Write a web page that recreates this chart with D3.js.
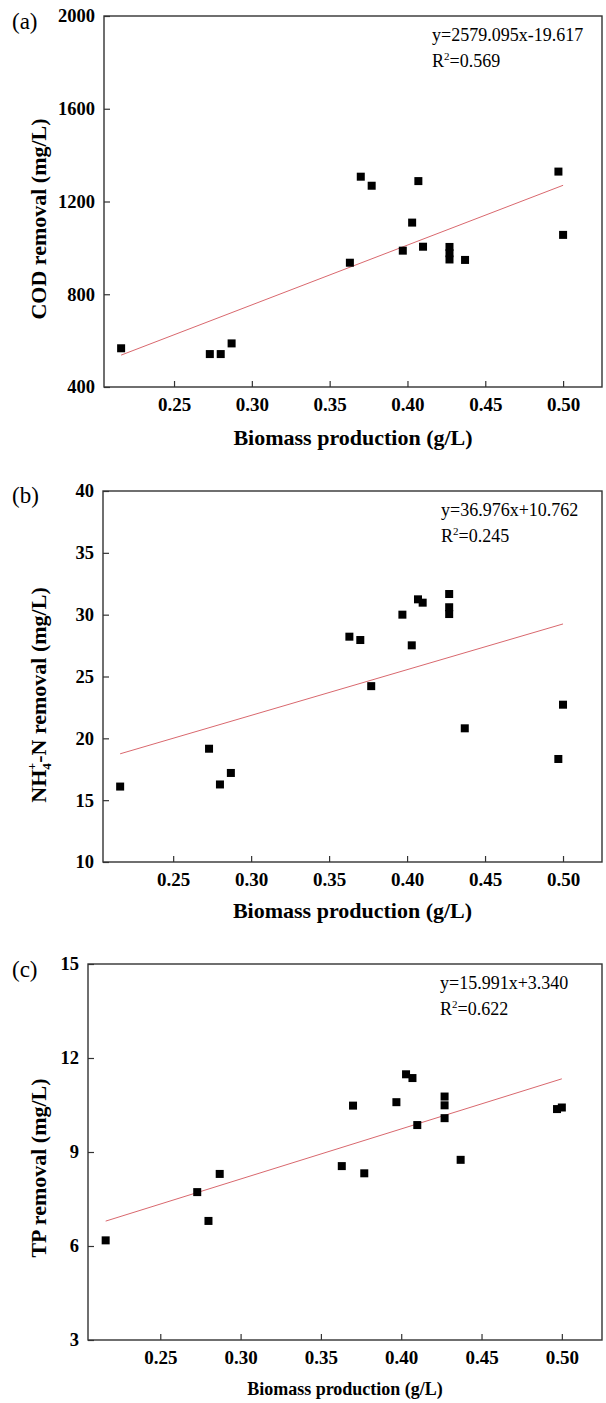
<!DOCTYPE html>
<html>
<head>
<meta charset="utf-8">
<script src="https://cdn.jsdelivr.net/npm/d3@7"></script>
<style>
  body { margin: 0; background: #fff; }
  svg { display: block; }
  text { font-family: "Liberation Serif", "Times New Roman", serif; fill: #000; }
</style>
</head>
<body>
<svg id="chart"></svg>
<script>
// biomass production (g/L), shared x for all three panels
const biomass = [0.216, 0.273, 0.280, 0.287, 0.363, 0.370, 0.377, 0.397, 0.403, 0.407, 0.410, 0.427, 0.427, 0.427, 0.437, 0.497, 0.500];

// removal values
const codRemoval = [567, 542, 542, 588, 936, 1307, 1268, 988, 1109, 1288, 1005, 1004, 977, 950, 948, 1329, 1056];
const nh4Removal = [16.1, 19.16, 16.27, 17.2, 28.22, 27.95, 24.22, 30.0, 27.52, 31.24, 30.97, 31.67, 30.6, 30.05, 20.81, 18.33, 22.72];
const tpRemoval = [6.18, 7.72, 6.80, 8.30, 8.55, 10.48, 8.32, 10.59, 11.48, 11.36, 9.86, 10.77, 10.49, 10.08, 8.75, 10.37, 10.42];

const xTicks = [0.25, 0.30, 0.35, 0.40, 0.45, 0.50];
const codTicks = [400, 800, 1200, 1600, 2000];
const nh4Ticks = [10, 15, 20, 25, 30, 35, 40];
const tpTicks = [3, 6, 9, 12, 15];

// linear fits as printed on the chart
const codFit = { slope: 2579.095, intercept: -19.617, eq: 'y=2579.095x-19.617', r2: '0.569' };
const nh4Fit = { slope: 36.976, intercept: 10.762, eq: 'y=36.976x+10.762', r2: '0.245' };
const tpFit = { slope: 15.991, intercept: 3.340, eq: 'y=15.991x+3.340', r2: '0.622' };

const width = 606, height = 1403;
const svg = d3.select('#chart').attr('width', width).attr('height', height);

const panels = [
  { tag: '(a)', values: codRemoval, yDomain: [400, 2000], yTicks: codTicks, fit: codFit, yLabel: 'cod',
    box: { left: 104, right: 602, top: 16, bottom: 387 }, tagY: 29, eqX: 432, labelY: 219, xTitleY: 445, xTitleSize: 22 },
  { tag: '(b)', values: nh4Removal, yDomain: [10, 40], yTicks: nh4Ticks, fit: nh4Fit, yLabel: 'nh4',
    box: { left: 103, right: 602, top: 491, bottom: 862 }, tagY: 503, eqX: 441, labelY: 695, xTitleY: 918, xTitleSize: 22 },
  { tag: '(c)', values: tpRemoval, yDomain: [3, 15], yTicks: tpTicks, fit: tpFit, yLabel: 'tp',
    box: { left: 88, right: 602, top: 964, bottom: 1340 }, tagY: 977, eqX: 440, labelY: 1168, xTitleY: 1395, xTitleSize: 18 }
];

panels.forEach(p => {
  const b = p.box;
  const x = d3.scaleLinear().domain([0.205, 0.525]).range([b.left, b.right]);
  const y = d3.scaleLinear().domain(p.yDomain).range([b.bottom, b.top]);
  const g = svg.append('g');

  // regression line over the data range
  const x0 = d3.min(biomass), x1 = d3.max(biomass);
  g.append('line')
    .attr('x1', x(x0)).attr('y1', y(p.fit.slope * x0 + p.fit.intercept))
    .attr('x2', x(x1)).attr('y2', y(p.fit.slope * x1 + p.fit.intercept))
    .attr('stroke', '#d9686e')
    .attr('stroke-width', 1);

  // points
  const s = 8;
  g.append('g')
    .selectAll('rect')
    .data(biomass.map((d, i) => [d, p.values[i]]))
    .join('rect')
    .attr('x', d => x(d[0]) - s / 2)
    .attr('y', d => y(d[1]) - s / 2)
    .attr('width', s)
    .attr('height', s)
    .attr('fill', '#000');

  // axes, ticks pointing inward
  const xAxis = g.append('g')
    .attr('transform', `translate(0,${b.bottom})`)
    .call(d3.axisBottom(x).tickValues(xTicks).tickFormat(d3.format('.2f')).tickSizeInner(-6).tickSizeOuter(0).tickPadding(11));
  xAxis.select('.domain').remove();
  xAxis.selectAll('line').attr('stroke', '#333').attr('stroke-width', 1.2);
  xAxis.selectAll('text').attr('font-family', 'Liberation Serif').attr('font-weight', 'bold').attr('font-size', 19);

  const yAxis = g.append('g')
    .attr('transform', `translate(${b.left},0)`)
    .call(d3.axisLeft(y).tickValues(p.yTicks).tickFormat(d3.format('d')).tickSizeInner(-6).tickSizeOuter(0).tickPadding(9));
  yAxis.select('.domain').remove();
  yAxis.selectAll('line').attr('stroke', '#333').attr('stroke-width', 1.2);
  yAxis.selectAll('text').attr('font-family', 'Liberation Serif').attr('font-weight', 'bold').attr('font-size', 18.5);

  // frame
  g.append('rect')
    .attr('x', b.left).attr('y', b.top)
    .attr('width', b.right - b.left).attr('height', b.bottom - b.top)
    .attr('fill', 'none')
    .attr('stroke', '#333')
    .attr('stroke-width', 1.4);

  // panel tag
  g.append('text')
    .attr('x', 12).attr('y', p.tagY)
    .attr('font-size', 23)
    .text(p.tag);

  // equation + R^2
  g.append('text')
    .attr('x', p.eqX).attr('y', b.top + 25)
    .attr('font-size', 18)
    .text(p.fit.eq);
  const r2 = g.append('text')
    .attr('x', p.eqX).attr('y', b.top + 51)
    .attr('font-size', 18);
  r2.append('tspan').text('R');
  r2.append('tspan').attr('font-size', 11).attr('dy', -7).text('2');
  r2.append('tspan').attr('dy', 7).text('=' + p.fit.r2);

  // x title
  g.append('text')
    .attr('x', (b.left + b.right) / 2).attr('y', p.xTitleY)
    .attr('text-anchor', 'middle')
    .attr('font-weight', 'bold')
    .attr('font-size', p.xTitleSize)
    .text('Biomass production (g/L)');

  // y title
  const yt = g.append('text')
    .attr('transform', `translate(46,${p.labelY}) rotate(-90)`)
    .attr('text-anchor', 'middle')
    .attr('font-weight', 'bold')
    .attr('font-size', 22);
  if (p.yLabel === 'cod') {
    yt.text('COD removal (mg/L)');
  } else if (p.yLabel === 'tp') {
    yt.text('TP removal (mg/L)');
  } else {
    yt.append('tspan').text('NH');
    yt.append('tspan').attr('font-size', 13).attr('dy', 5).text('4');
    yt.append('tspan').attr('font-size', 13).attr('dx', -7).attr('dy', -15).text('+');
    yt.append('tspan').attr('dy', 10).text('-N removal (mg/L)');
  }
});
</script>
</body>
</html>
